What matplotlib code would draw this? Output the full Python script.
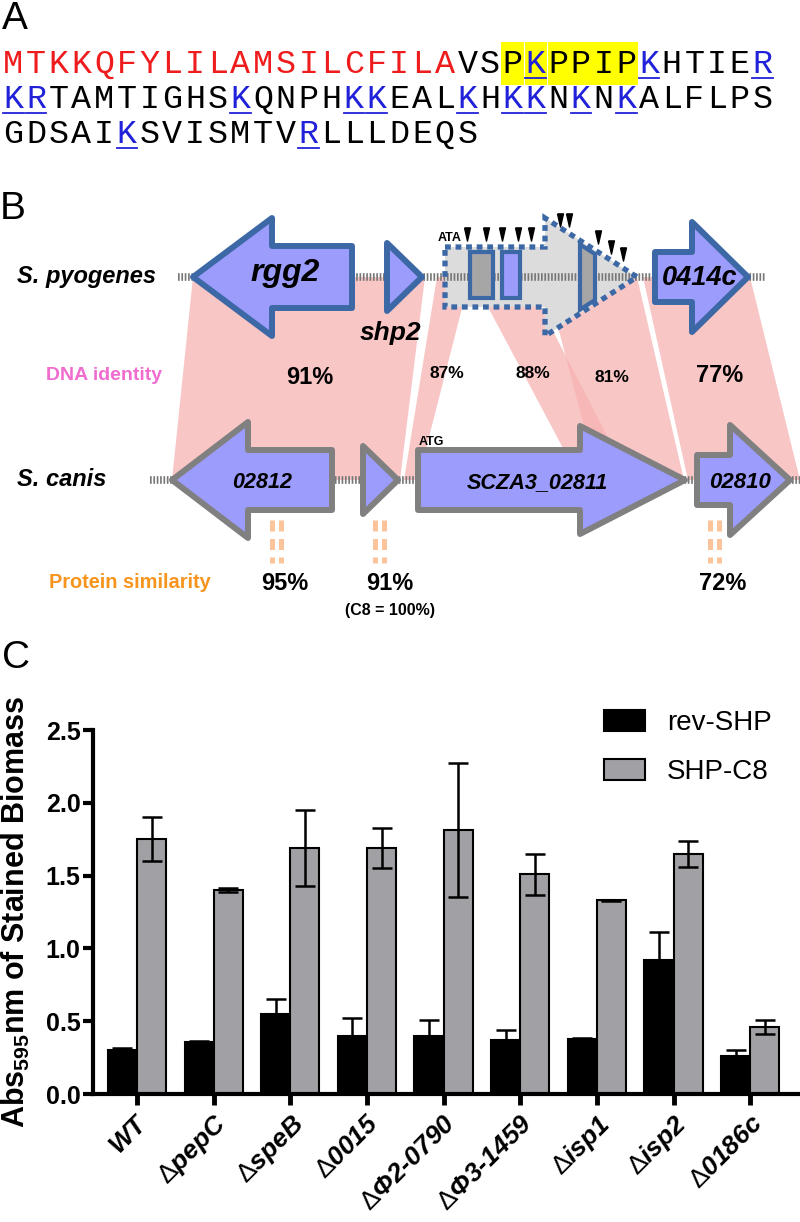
import numpy as np
import matplotlib
matplotlib.use('Agg')
import matplotlib.pyplot as plt
from matplotlib.patches import Polygon, Rectangle

plt.rcParams['font.family'] = ['Liberation Sans', 'DejaVu Sans']
plt.rcParams['mathtext.fontset'] = 'custom'
plt.rcParams['mathtext.rm'] = 'Liberation Sans'
plt.rcParams['mathtext.it'] = 'Liberation Sans:italic:bold'
plt.rcParams['mathtext.bf'] = 'Liberation Sans:bold'
plt.rcParams['mathtext.bfit'] = 'Liberation Sans:italic:bold'

# ---------------- data ----------------
# panel A: SHP precursor sequence
seq_lines = ["MTKKQFYLILAMSILCFILAVSPKPPIPKHTIER",
             "KRTAMTIGHSKQNPHKKEALKHKKNKNKALFLPS",
             "GDSAIKSVISMTVRLLLDEQS"]
signal_len = 20          # red part (signal peptide)
highlight = (22, 27)     # PKPPIP, yellow box on line 1

# panel B: genes, identity / similarity
pyo_names = ['rgg2', 'shp2', '', '0414c']
canis_names = ['02812', '', 'SCZA3_02811', '02810']
dna_identity = [91, 87, 88, 81, 77]
prot_similarity = [95, 91, 72]

# panel C: biofilm
strains = ['WT', 'pepC', 'speB', '0015', 'Φ2‐0790', 'Φ3‐1459', 'isp1', 'isp2', '0186c']
rev_shp = [0.30, 0.36, 0.55, 0.40, 0.40, 0.37, 0.38, 0.92, 0.26]
rev_err = [0.015, 0.005, 0.10, 0.12, 0.11, 0.07, 0.008, 0.19, 0.04]
shp_c8 = [1.75, 1.40, 1.69, 1.69, 1.81, 1.51, 1.33, 1.65, 0.46]
shp_err = [0.15, 0.015, 0.26, 0.14, 0.46, 0.14, 0.004, 0.09, 0.05]
yticks = [0.0, 0.5, 1.0, 1.5, 2.0, 2.5]

# ---------------- layout (pixel units) ----------------
fig = plt.figure(figsize=(8, 12.22), dpi=100)
ax0 = fig.add_axes([0, 0, 1, 1])
ax0.set_xlim(0, 800)
ax0.set_ylim(1222, 0)
ax0.axis('off')

RED, BLUE = '#ee1c1c', '#2121d9'
FILL = '#9c9cfc'
EDGE_TOP, EDGE_BOT = '#3d68a6', '#808080'

# ---- panel A
ax0.text(2, 19, 'A', fontsize=28, va='center', ha='left')
pitch = 22.7
xs0 = 2 + pitch / 2
baselines = [73, 108, 143]
ax0.add_patch(Rectangle((2 + highlight[0] * pitch, 42), (highlight[1] - highlight[0] + 1) * pitch, 43,
                        color='#ffff00', lw=0, zorder=1))
for b in (highlight[0] + 1, highlight[0] + 2):
    ax0.plot([2 + b * pitch] * 2, [42, 85], color='white', lw=0.8, zorder=1.5)
for li, (s, yb) in enumerate(zip(seq_lines, baselines)):
    for i, ch in enumerate(s):
        xc = xs0 + i * pitch
        if li == 0 and i < signal_len:
            col = RED
        elif ch in 'KR':
            col = BLUE
            ax0.plot([xc - pitch / 2 + 1, xc + pitch / 2 - 1], [yb + 5, yb + 5], color=BLUE, lw=1.3, zorder=3)
        else:
            col = 'black'
        ax0.text(xc, yb, ch, fontsize=24, family='Liberation Mono', color=col,
                 ha='center', va='baseline', zorder=3)

# ---- panel B
ax0.text(0, 209, 'B', fontsize=28, va='center', ha='left')
y_top, y_bot = 277, 480

# DNA identity bands (top left, top right, bottom left, bottom right)
bands = [(193, 425, 172, 400), (437, 470, 404, 418), (472, 525, 580, 630),
         (545, 637, 598, 684), (643, 750, 688, 800)]
for tl, tr, bl, br in bands:
    ax0.add_patch(Polygon([(tl, y_top), (tr, y_top), (br, y_bot), (bl, y_bot)],
                          closed=True, fc='#f7b3b3', ec='none', alpha=0.75, zorder=1))
band_lbl = [(310, 378, 17), (447, 373, 12.5), (533, 373, 12.5), (612, 378, 12.5), (720, 375, 17)]
for (lx, ly, fs), v in zip(band_lbl, dna_identity):
    ax0.text(lx, ly, f'{v}%', fontsize=fs, fontweight='bold', ha='center', va='center', zorder=6)
ax0.text(104, 375, 'DNA identity', fontsize=14, fontweight='bold', color='#f06ccf',
         ha='center', va='center')


def arrow_pts(tail, base, tip, yc, bh, hh):
    return [(tail, yc - bh), (base, yc - bh), (base, yc - hh), (tip, yc),
            (base, yc + hh), (base, yc + bh), (tail, yc + bh)]


def backbone(x1, x2, yc):
    ax0.plot([x1, x2], [yc, yc], color='#777777', lw=5.5, dashes=(0.22, 0.22),
             solid_capstyle='butt', dash_capstyle='butt', zorder=3)


# deleted gene (dotted) on S. pyogenes
dot_tail, dot_base, dot_tip, dot_bh, dot_hh = 445, 545, 637, 30, 59
dot_pts = arrow_pts(dot_tail, dot_base, dot_tip, y_top, dot_bh, dot_hh)
ax0.add_patch(Polygon(dot_pts, closed=True, fc='#dcdcdc', ec='none', zorder=2))
backbone(178, 765, y_top)
ax0.add_patch(Rectangle((470, 252), 23, 46, fc='#a6a6a6', ec=EDGE_TOP, lw=3, zorder=4))
ax0.add_patch(Rectangle((502, 252), 18, 46, fc=FILL, ec=EDGE_TOP, lw=3, zorder=4))
slope = dot_hh / (dot_tip - dot_base)
ya, yb_ = y_top - dot_hh + slope * (580 - dot_base) + 4, y_top - dot_hh + slope * (595 - dot_base) + 4
ax0.add_patch(Polygon([(580, ya), (595, yb_), (595, 2 * y_top - yb_), (580, 2 * y_top - ya)],
                      closed=True, fc='#a6a6a6', ec=EDGE_TOP, lw=3, zorder=4))
ax0.add_patch(Polygon(dot_pts, closed=True, fc='none', ec=EDGE_TOP, lw=3.8,
                      ls=(0, (1.1, 0.9)), zorder=4))

top_genes = [arrow_pts(352, 272, 193, y_top, 31, 59),
             [(387, y_top - 34), (422, y_top), (387, y_top + 34)],
             arrow_pts(655, 692, 748, y_top, 25, 55)]
for pts in top_genes:
    ax0.add_patch(Polygon(pts, closed=True, fc=FILL, ec=EDGE_TOP, lw=4.3, joinstyle='round', zorder=5))

heads = [(467, 234), (486, 234), (502, 234), (518, 234), (531, 234), (560, 220), (569, 220),
         (598, 237), (611, 247), (623, 254)]
tri = [(-0.45, 1), (0.45, 1), (0, -1), (-0.45, 1)]
ax0.scatter([h[0] for h in heads], [h[1] for h in heads], marker=tri, s=90, c='black', zorder=6)
ax0.text(450, 238, 'ATA', fontsize=9, fontweight='bold', ha='center', va='center', zorder=6)

ax0.text(17, y_top, 'S. pyogenes', fontsize=17, fontweight='bold', fontstyle='italic', va='center')
ax0.text(285, y_top - 4, pyo_names[0], fontsize=23, fontweight='bold', fontstyle='italic',
         ha='center', va='center', zorder=6)
ax0.text(390, 333, pyo_names[1], fontsize=19, fontweight='bold', fontstyle='italic',
         ha='center', va='center', zorder=6)
ax0.text(700, y_top + 1, pyo_names[3], fontsize=19.5, fontweight='bold', fontstyle='italic',
         ha='center', va='center', zorder=6)

# S. canis row
backbone(150, 800, y_bot)
bot_genes = [arrow_pts(332, 248, 172, y_bot, 30, 58),
             [(363, y_bot - 34), (398, y_bot), (363, y_bot + 34)],
             arrow_pts(418, 580, 685, y_bot, 30, 54),
             arrow_pts(697, 730, 790, y_bot, 25, 55)]
for pts in bot_genes:
    ax0.add_patch(Polygon(pts, closed=True, fc=FILL, ec=EDGE_BOT, lw=4.3, joinstyle='round', zorder=5))
for xc, name, fs in zip([262, 0, 537, 740], canis_names, [15.5, 0, 15.6, 16]):
    if name:
        ax0.text(xc, y_bot + 3, name, fontsize=fs, fontweight='bold', fontstyle='italic',
                 ha='center', va='center', zorder=6)
ax0.text(431, 442, 'ATG', fontsize=9, fontweight='bold', ha='center', va='center', zorder=6)
ax0.text(17, y_bot, 'S. canis', fontsize=17, fontweight='bold', fontstyle='italic', va='center')

# protein similarity
ax0.text(130, 583, 'Protein similarity', fontsize=14.4, fontweight='bold', color='#f7941d',
         ha='center', va='center')
for xc, v in zip([276, 379, 714], prot_similarity):
    for dx in (-4.5, 4.5):
        ax0.plot([xc + dx, xc + dx], [520, 563], color='#fcc49a', lw=3.6, dashes=(2.2, 1.5),
                 solid_capstyle='butt', dash_capstyle='butt')
    ax0.text(xc + 9 if v != 91 else xc + 11, 583, f'{v}%', fontsize=17, fontweight='bold',
             ha='center', va='center')
ax0.text(390, 610, '(C8 = 100%)', fontsize=11.5, fontweight='bold', ha='center', va='center')

# ---- panel C
ax0.text(2, 658, 'C', fontsize=28, va='center', ha='left')

axc = fig.add_axes([93 / 800, (1222 - 1094) / 1222, (800 - 93) / 800, 364 / 1222])
axc.patch.set_alpha(0)
x = np.arange(len(strains))
w = 0.38
axc.bar(x - w / 2, rev_shp, w, color='black', edgecolor='black', lw=1.5, label='rev-SHP', zorder=2)
axc.bar(x + w / 2, shp_c8, w, color='#a1a1a5', edgecolor='black', lw=1.5, label='SHP-C8', zorder=2)
axc.errorbar(x - w / 2, rev_shp, yerr=rev_err, fmt='none', ecolor='black', elinewidth=1.8,
             capsize=7, capthick=1.8, zorder=3)
axc.errorbar(x + w / 2, shp_c8, yerr=shp_err, fmt='none', ecolor='black', elinewidth=1.8,
             capsize=7, capthick=1.8, zorder=3)
axc.set_xlim(-0.574, 8.65)
axc.set_ylim(0, 2.5)
axc.spines['top'].set_visible(False)
axc.spines['right'].set_visible(False)
for sp in ('left', 'bottom'):
    axc.spines[sp].set_linewidth(3)
axc.set_yticks(yticks)
axc.set_yticklabels([f'{t:.1f}' for t in yticks], fontsize=18, fontweight='bold')
axc.tick_params(axis='y', width=3, length=7, pad=2)
axc.tick_params(axis='x', width=3.5, length=8, pad=4)
labels = [r'$\mathbfit{WT}$'] + [r'$\mathrm{\Delta}\mathbfit{' + s + '}$' for s in strains[1:]]
axc.set_xticks(x)
axc.set_xticklabels(labels, fontsize=19, rotation=45, ha='right', va='top', rotation_mode='anchor')
fig.text(16 / 800, 1 - 912 / 1222, r'Abs$_{\mathbf{595}}$nm of Stained Biomass', fontsize=22,
         fontweight='bold', rotation=90, ha='center', va='center')
axc.legend(loc='upper left', bbox_to_anchor=(604 / 800, 1 - 710 / 1222), bbox_transform=fig.transFigure,
           frameon=False, fontsize=20, handlelength=1.47, handleheight=0.8, handletextpad=0.8,
           labelspacing=0.8, borderpad=0, borderaxespad=0)

fig.savefig('out.png', dpi=100, facecolor='white')
